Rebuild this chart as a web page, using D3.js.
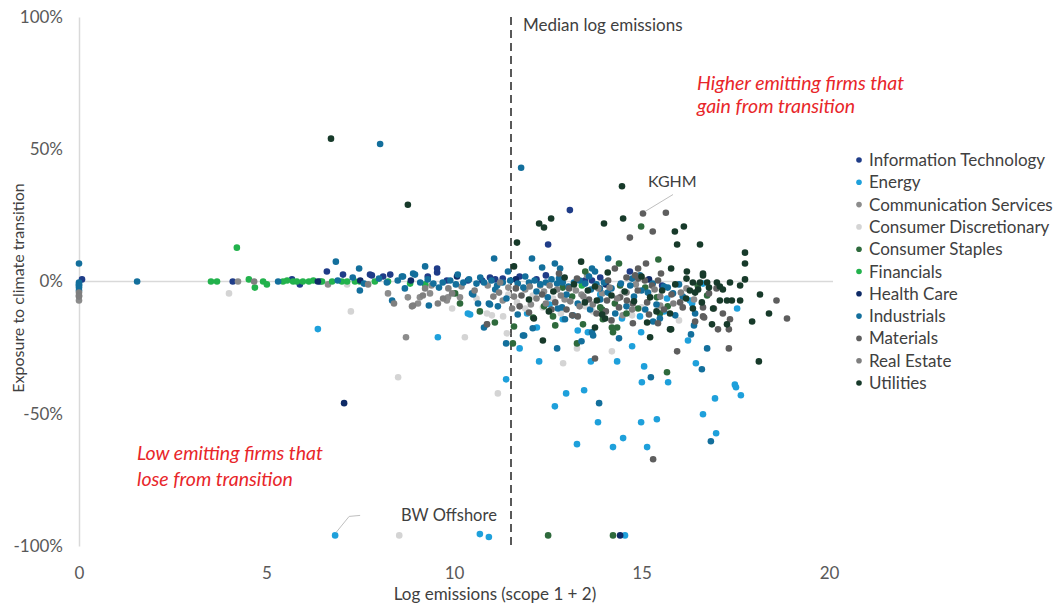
<!DOCTYPE html>
<html>
<head>
<meta charset="utf-8">
<script src="https://cdn.jsdelivr.net/npm/d3@7"></script>
<style>
  body { margin: 0; background: #fff; }
  text { font-family: Lato, "Open Sans", sans-serif; }
</style>
</head>
<body>
<div id="chart"></div>
<script>
// sector names + colours (legend order)
const sectors = ["Information Technology", "Energy", "Communication Services", "Consumer Discretionary",
  "Consumer Staples", "Financials", "Health Care", "Industrials", "Materials", "Real Estate", "Utilities"];
const sectorColors = ["#1f3c88", "#1ea0db", "#8c8c8c", "#d4d4d4", "#2e6a3c", "#22b24c",
  "#0e2a66", "#136f9c", "#5e5e5e", "#7f7f7f", "#173a2a"];

// [log emissions, exposure %]
const infoTech = [[13.09,27],[12.51,14],[4.1,0],[5.68,0.8],[5.89,-1.1],[6.43,0],[6.61,3.8],[7.04,2.6],
  [7.76,2.6],[7.81,2.3],[8.11,1.9],[9.55,4.9],[9.55,3.4],[9.81,0.4],[14.69,3.8],[13.68,0.4],[13.49,0.4],
  [15.55,-1.5],[10.37,0.4],[10.75,0.4],[10.96,1.5],[0.08,0.8],[12.2,0.8],[11.3,1.1],
  [11.1,0.8],[11.75,1.9],[12.45,2.3],[13.9,1.5],[9.3,1.9],[8.3,2.6]];
const energy = [[6.83,-96],[10.69,-95.5],[10.93,-96.6],[14.56,-96],[6.37,-18],[9.57,-21.1],[10.37,-12.1],
  [11.39,-37],[12.27,-30.2],[12.99,-42.3],[12.69,-47.2],[13.47,-41.1],[13.65,-30.2],[13.84,-53.2],
  [13.28,-61.5],[14.24,-62.6],[14.51,-59.2],[14.35,-30.2],[14.99,-53.2],[15.41,-52.1],[15.15,-62.6],
  [15.07,-32.1],[15.01,-38.1],[15.71,-38.1],[14.99,-19.2],[16.24,-22.3],[16.45,-30.9],[17.49,-39],
  [17.52,-40],[17.65,-43],[16.96,-44.2],[16.64,-50.2],[16.99,-57.4],[14.48,-14],[14.96,-13.2],
  [11.95,-12.1],[12.21,-17.4],[10.43,-12.5],[13.57,-19.2],[16.29,-7.2],[15.68,-6.4],[17.55,-10.2],
  [16.35,-8.3],[16.64,-0.8],[12.55,-8.7],[13.9,-4.9],[12.9,-14.3],[13.3,-18.5],[14.75,-24.5],[15.6,-11.3],
  [11.75,-25.3]];
const commServices = [[8.24,-4.5],[8.77,-6],[9.04,-8.3],[9.36,-4.5],[9.81,-7.2],[9.09,-6],[9.84,-6],
  [10.16,-6],[8.72,-21.1],[10.88,-16.2],[4.24,0],[6.64,-1.1],[0,-7.2],[9.4,-1.5],[10.2,-1.9],[10.9,-1.5],
  [11.45,-2.3],[11.9,-3],[12.4,-3.8],[13.25,-3.4],[13.95,-4.5],[14.85,-1.1],[16.2,-2.6],
  [11.3,-7.2],[12.05,-8.7],[12.95,-6.8],[13.4,-4.9],[14.5,-12.8],[15.5,-9.1],[16.4,-6.8],[13.55,2.3],
  [12.3,-1.5]];
const consDisc = [[4.0,-4.5],[7.25,-11.3],[8.51,-36.2],[8.54,-96],[10.29,-21.1],[11.17,-42.3],[12.91,-30.9],
  [13.28,-25.3],[14.21,-26.4],[9.95,-10.2],[10.88,-12.1],[11.01,-12.8],[11.31,-13.2],[11.41,-19.6],
  [12.37,-9.8],[12.64,-6.4],[7.15,-1.1],[14.75,-12.8],[11.68,-7.9],[12.1,-5.3],[13.5,-9.4],[15.2,-4.5],
  [11.9,-10.2],[12.85,-12.1],[13.7,-11.3],[14.5,-4.5],[15.0,-9.8],[16.0,-14.7],[11.45,-4.9],[10.6,-6.4]];
const consStaples = [[11.57,-23.4],[11.6,-17],[13.28,-23.4],[10.69,-11.3],[10.16,-8.3],[12.51,-96],
  [14.24,-96],[15.68,-34.3],[14.24,-19.2],[14.35,-17.4],[15.49,-12.1],[14.21,-17.4],[13.95,-10.6],
  [14.29,-8.3],[15.41,-6],[14.91,-10.2],[13.44,-16.2],[13.97,-14.3],[12.64,-13.2],[12.11,-13.6],
  [11.09,-15.5],[10.03,-4.5],[14.4,6.8],[14.43,-1.5],[16.75,-5.3],[14.99,20.8],[12.9,-2.3],
  [12.4,-9.4],[13.15,-5.7],[13.9,-9.8],[14.6,-12.1],[15.1,-2.3],[15.7,-9.4],[12.7,-16.6],[16.5,-1.5],
  [13.5,3.8],[15.45,8.3]];
const financials = [[3.52,0],[3.68,0],[4.21,12.8],[4.53,0.8],[4.69,-2.3],[4.91,0],[5.01,-1.1],[5.44,0],
  [5.71,0],[5.81,0],[5.97,0],[6.13,0],[6.48,0],[6.75,0],[7.01,0],[7.15,0],[7.36,0],[7.49,0],[7.89,0],
  [8.24,0],[8.83,-0.8],[9.23,-1.1],[13.41,-1.5],[6.25,0.4],[5.55,0.4]];
const healthCare = [[7.07,-46],[14.43,-96],[10.08,1.9],[6.37,0],[11.65,0.8],[12.85,0.4],[14.05,-1.1],
  [15.2,0.8],[8.85,0.4],[7.5,0.4]];
const industrials = [[8.03,52],[11.79,43],[11.07,8.7],[12.08,8.7],[12.35,5.3],[12.69,6.8],[7.47,4.9],
  [9.23,5.7],[7.49,-3.4],[8.35,-7.2],[9.33,-9.1],[10.51,-4.9],[10.64,-8.3],[10.93,-8.3],[10.8,-17.4],
  [11.84,-20.4],[12.77,-10.2],[0,6.8],[0,-1.1],[0,-2.3],[0,-3.4],[0,-0.4],[0,-1.5],[1.55,0],[5.31,0],
  [6.85,7.5],[8.21,-0.4],
  [8.64,1.9],[8.69,-2.6],[8.91,3],[11.39,-23.4],[12.75,-25.3],[13.87,-46],[14.11,8.7],[15.25,-36.2],
  [16.32,-20],[16.61,-33.2],[16.75,-25.3],[16.85,-60.4],[15.31,-15.1],[16.43,-12.1],[11.44,3.8],
  [12.83,4.9],[13.68,4.9],[13.76,3.8],[15.17,-4.2],[15.84,-4.5],[13.68,-19.2],[13.71,-20.4],[13.63,-10.6],
  [15.49,-14],[12.88,-9.8],[12.96,-14.3],[13.17,-12.8],[11.87,-20.4],[10.96,-8.7],[11.17,-9.4],
  [10.48,-4.5],[8.96,2.6],[8.61,1.9],[13.89,-2.6],[14.75,1.1],[14.96,2.3],
  [9.1,-0.4],[9.3,0.8],[9.45,-0.8],[9.7,-0.4],[9.9,0.4],[10.05,-1.1],[10.25,-0.4],[10.4,0.8],[10.6,-0.8],
  [10.8,-0.4],[11.0,0.4],[11.15,-1.5],[11.3,-0.4],[11.5,0.4],[11.7,-0.8],[11.85,-2.3],[12.0,-0.4],
  [12.15,0.4],[12.3,-1.1],[12.45,-0.4],[12.6,0.8],[12.75,-0.8],[12.9,-0.4],[13.05,-1.9],[13.2,-0.4],
  [13.35,0.4],[13.5,-0.8],[13.65,-3],[13.8,-1.1],[14.0,-0.4],[14.2,-2.6],[14.45,-0.8],[14.7,-1.5],
  [15.0,-3.4],[15.3,-0.8],[15.7,-2.3],[16.0,-1.1],
  [9.6,-2.3],[10.1,2.6],[10.7,1.5],[11.1,-3],[11.4,-6.4],[11.9,1.9],[12.2,-3.8],[12.5,-6],[12.8,1.1],
  [13.0,-4.9],[13.3,-8.3],[13.6,1.9],[13.9,-6.8],[14.1,-4.2],[14.3,-12.1],[14.6,-9.4],[14.8,-5.7],
  [15.1,-10.6],[15.4,-8.7],[15.6,-1.9],[15.9,-12.8],[16.1,-5.7],[16.4,-16.6],[12.1,-17.7],[13.4,-22.6],
  [14.4,-21.5],[11.7,-12.5],[8.5,0.4],[8.0,1.1],[7.6,-0.8],[6.9,0.4],[7.3,1.5]];
const materials = [[15.04,25.7],[15.65,26],[15.31,-67.2],[15.3,18.9],[14.69,16.6],[15.12,6.8],[15.95,-26.4],
  [17.33,-25.3],[18.88,-14],[18.6,-7.2],[17.33,-18.1],[17.04,-18.1],[16.93,-10.2],[17.36,-14.3],
  [16.64,-13.2],[16.43,-15.1],[16.64,-9.8],[13.76,-29.1],[15.44,-15.8],[17.17,-12.1],[16.67,-13.6],
  [16.03,-7.9],[14.08,-7.2],[14.43,-6],[14.61,-7.2],[14.77,-8.3],[15.15,-7.9],[15.28,-1.5],[15.44,0.4],
  [14.11,0.4],[14.29,4.9],[14.91,4.9],[14.83,2.3],[15.52,3],[14.91,1.1],[15.09,0.4],[14.77,-15.8],
  [11.75,-9.4],[12.0,-11.7],[12.7,-7.9],[13.0,-10.6],[13.3,-13.2],[13.6,-6.8],[14.05,-11.3],[14.4,-9.8],
  [15.6,-10.6],[12.35,-4.9],[10.88,-16.2],[13.07,-2.6],[13.28,1.1],
  [11.8,-5.3],[12.6,-10.6],[13.15,-12.8],[13.8,-12.1],[14.2,-14.7],[14.9,-3.4],[15.2,-12.5],[15.8,-4.9],
  [16.1,-9.8],[16.8,-4.5],[17.0,-2.6],[12.8,3],[14.6,1.5],[11.65,-2.6]];
const realEstate = [[8.4,-8.3],[8.91,-9.1],[9.17,-5.3],[9.57,-8.3],[9.23,-2.6],[8.88,-9.4],[9.71,-6.4],
  [9.95,-4.5],[4.67,0],[7.71,-1.1],[0,-4.2],[0,-5.3],[9.85,-2.6],[10.55,-3.4],[11.2,-4.2],[11.6,-5.7],
  [12.2,-6.4],[12.55,-1.5],[12.85,-5.3],[13.1,-7.5],[13.45,-5.7],[13.7,-8.7],[14.15,-2.3],[14.6,-4.2],
  [15.5,-5.7],[15.85,-8.3],[11.23,-0.4],[12.02,-1.9],
  [11.05,-5.7],[11.55,-10.2],[12.45,-8.3],[12.75,-3],[13.35,-9.4],[13.85,-2.6],[14.35,-6.4],[14.75,-10.6],
  [15.35,-3],[16.05,-4.2],[0,-5.7]];
const utilities = [[6.72,54],[8.77,29],[14.48,36],[14.51,23.8],[14.0,21.9],[15.89,18.9],[16.13,20.8],
  [15.95,14],[16.56,14],[17.76,10.9],[17.76,6.8],[17.76,0.8],[18.16,-4.9],[18.4,-12.1],[17.95,-15.1],
  [18.13,-30.2],[12.27,21.9],[12.4,20.4],[12.59,23.8],[11.68,14.7],[11.6,5.7],[13.39,7.5],[15.79,4.9],
  [16.21,3.8],[16.64,2.3],[17.36,-0.4],[17.63,-1.5],[17.01,-0.4],[17.09,-1.9],[17.17,-3],[16.56,-0.4],
  [16.75,-0.4],[16.51,-3],[16.29,-3.4],[16.43,-4.2],[16.19,-6.4],[16.37,-10.2],[16.91,-10.2],[17.09,-7.2],
  [17.28,-7.2],[17.41,-7.2],[17.63,-7.2],[16.88,-16.2],[17.28,-16.2],[15.76,-18.1],[15.76,-12.1],
  [15.23,-21.1],[14.03,-14],[13.49,-7.9],[13.81,-7.2],[15.23,-6],[15.55,-3.4],[13.57,-3.4],[12.37,-22.3],
  [12.53,-11.3],[12.13,-14],[13.76,-17.4],[15.79,-18.1],[16.61,-7.9],[16.37,-0.4],[16.64,3],[13.76,-1.9],
  [12.95,1.5],[14.55,-3.8],
  [14.2,-5.3],[14.8,-7.5],[15.0,1.9],[15.4,-11.3],[15.9,-1.1],[16.2,1.1],[16.8,-2.3],[14.1,3.4],
  [13.2,-1.1],[12.65,-3.8],[12.0,-6.8],[13.95,-12.5],[15.15,-15.5]];

const seriesData = [infoTech, energy, commServices, consDisc, consStaples, financials, healthCare,
  industrials, materials, realEstate, utilities];

const yTicks = [-100, -50, 0, 50, 100];
const xTicks = [0, 5, 10, 15, 20];
const medianLog = 11.52;

const width = 1056, height = 604;

let svg = d3.select("#chart").append("svg")
    .attr("width", width)
    .attr("height", height);

let x = d3.scaleLinear().domain([0, 20]).range([79, 829]);
let y = d3.scaleLinear().domain([-100, 100]).range([546, 17]);

// y axis (the vertical grey line at x = 0)
let yAxis = svg.append("g")
    .attr("transform", `translate(${x(0)},0)`)
    .call(d3.axisLeft(y).tickValues(yTicks).tickFormat(d => d + "%").tickSize(0).tickPadding(16));
yAxis.select(".domain").attr("stroke", "#d9d9d9").attr("stroke-width", 1.5);
yAxis.selectAll("text").attr("fill", "#595959").style("font-size", "17px");

// x axis labels sit at the bottom, no line
let xAxis = svg.append("g")
    .attr("transform", `translate(0,${y(-100)})`)
    .call(d3.axisBottom(x).tickValues(xTicks).tickSize(0).tickPadding(21));
xAxis.select(".domain").remove();
xAxis.selectAll("text").attr("fill", "#595959").style("font-size", "17px");

// zero line
svg.append("line")
    .attr("x1", x(0)).attr("x2", x(20) + 4)
    .attr("y1", y(0)).attr("y2", y(0))
    .attr("stroke", "#d9d9d9").attr("stroke-width", 1.5);

// axis titles
svg.append("text")
    .attr("x", 495).attr("y", 600)
    .attr("text-anchor", "middle")
    .attr("fill", "#404040").style("font-size", "17px")
    .text("Log emissions (scope 1 + 2)");
svg.append("text")
    .attr("transform", `translate(24,288) rotate(-90)`)
    .attr("text-anchor", "middle")
    .attr("fill", "#404040").style("font-size", "16px")
    .text("Exposure to climate transition");

// median line
svg.append("line")
    .attr("x1", x(medianLog)).attr("x2", x(medianLog))
    .attr("y1", y(100)).attr("y2", y(-100))
    .attr("stroke", "#595959").attr("stroke-width", 2)
    .attr("stroke-dasharray", "8,5");
svg.append("text")
    .attr("x", x(medianLog) + 12).attr("y", 31)
    .attr("fill", "#404040").style("font-size", "17px")
    .text("Median log emissions");

// points, utilities drawn last
seriesData.forEach(function(pts, i) {
    svg.append("g").selectAll("circle")
        .data(pts)
        .enter()
        .append("circle")
        .attr("cx", d => x(d[0]))
        .attr("cy", d => y(d[1]))
        .attr("r", 3.3)
        .attr("fill", sectorColors[i]);
});

// callouts
svg.append("polyline")
    .attr("points", `${x(15.04) + 2},${y(25.7) - 2} ${x(15.04) + 30},${y(25.7) - 19}`)
    .attr("fill", "none").attr("stroke", "#bfbfbf").attr("stroke-width", 1);
svg.append("text")
    .attr("x", 648).attr("y", 187)
    .attr("fill", "#404040").style("font-size", "16px")
    .text("KGHM");
svg.append("polyline")
    .attr("points", `${x(6.83) + 1},${y(-96) - 3} ${x(6.83) + 14},${y(-96) - 19} ${x(6.83) + 25},${y(-96) - 20}`)
    .attr("fill", "none").attr("stroke", "#bfbfbf").attr("stroke-width", 1);
svg.append("text")
    .attr("x", 401).attr("y", 521)
    .attr("fill", "#404040").style("font-size", "16.5px")
    .text("BW Offshore");

// quadrant notes
let notes = [
    {x: 697, y: 90, t: "Higher emitting firms that"},
    {x: 697, y: 113, t: "gain from transition"},
    {x: 137, y: 460, t: "Low emitting firms that"},
    {x: 137, y: 486, t: "lose from transition"}
];
svg.selectAll("text.note")
    .data(notes)
    .enter()
    .append("text")
    .attr("class", "note")
    .attr("x", d => d.x).attr("y", d => d.y)
    .attr("fill", "#e8262a")
    .style("font-size", "19.5px").style("font-style", "italic")
    .text(d => d.t);

// legend
let legend = svg.append("g").attr("class", "legend");
let rows = legend.selectAll("g")
    .data(sectors)
    .enter()
    .append("g")
    .attr("transform", (d, i) => `translate(859, ${160 + i * 22.3})`);
rows.append("circle")
    .attr("r", 2.8)
    .attr("fill", (d, i) => sectorColors[i]);
rows.append("text")
    .attr("x", 10).attr("y", 6)
    .attr("fill", "#404040").style("font-size", "17px")
    .text(d => d);
</script>
</body>
</html>
